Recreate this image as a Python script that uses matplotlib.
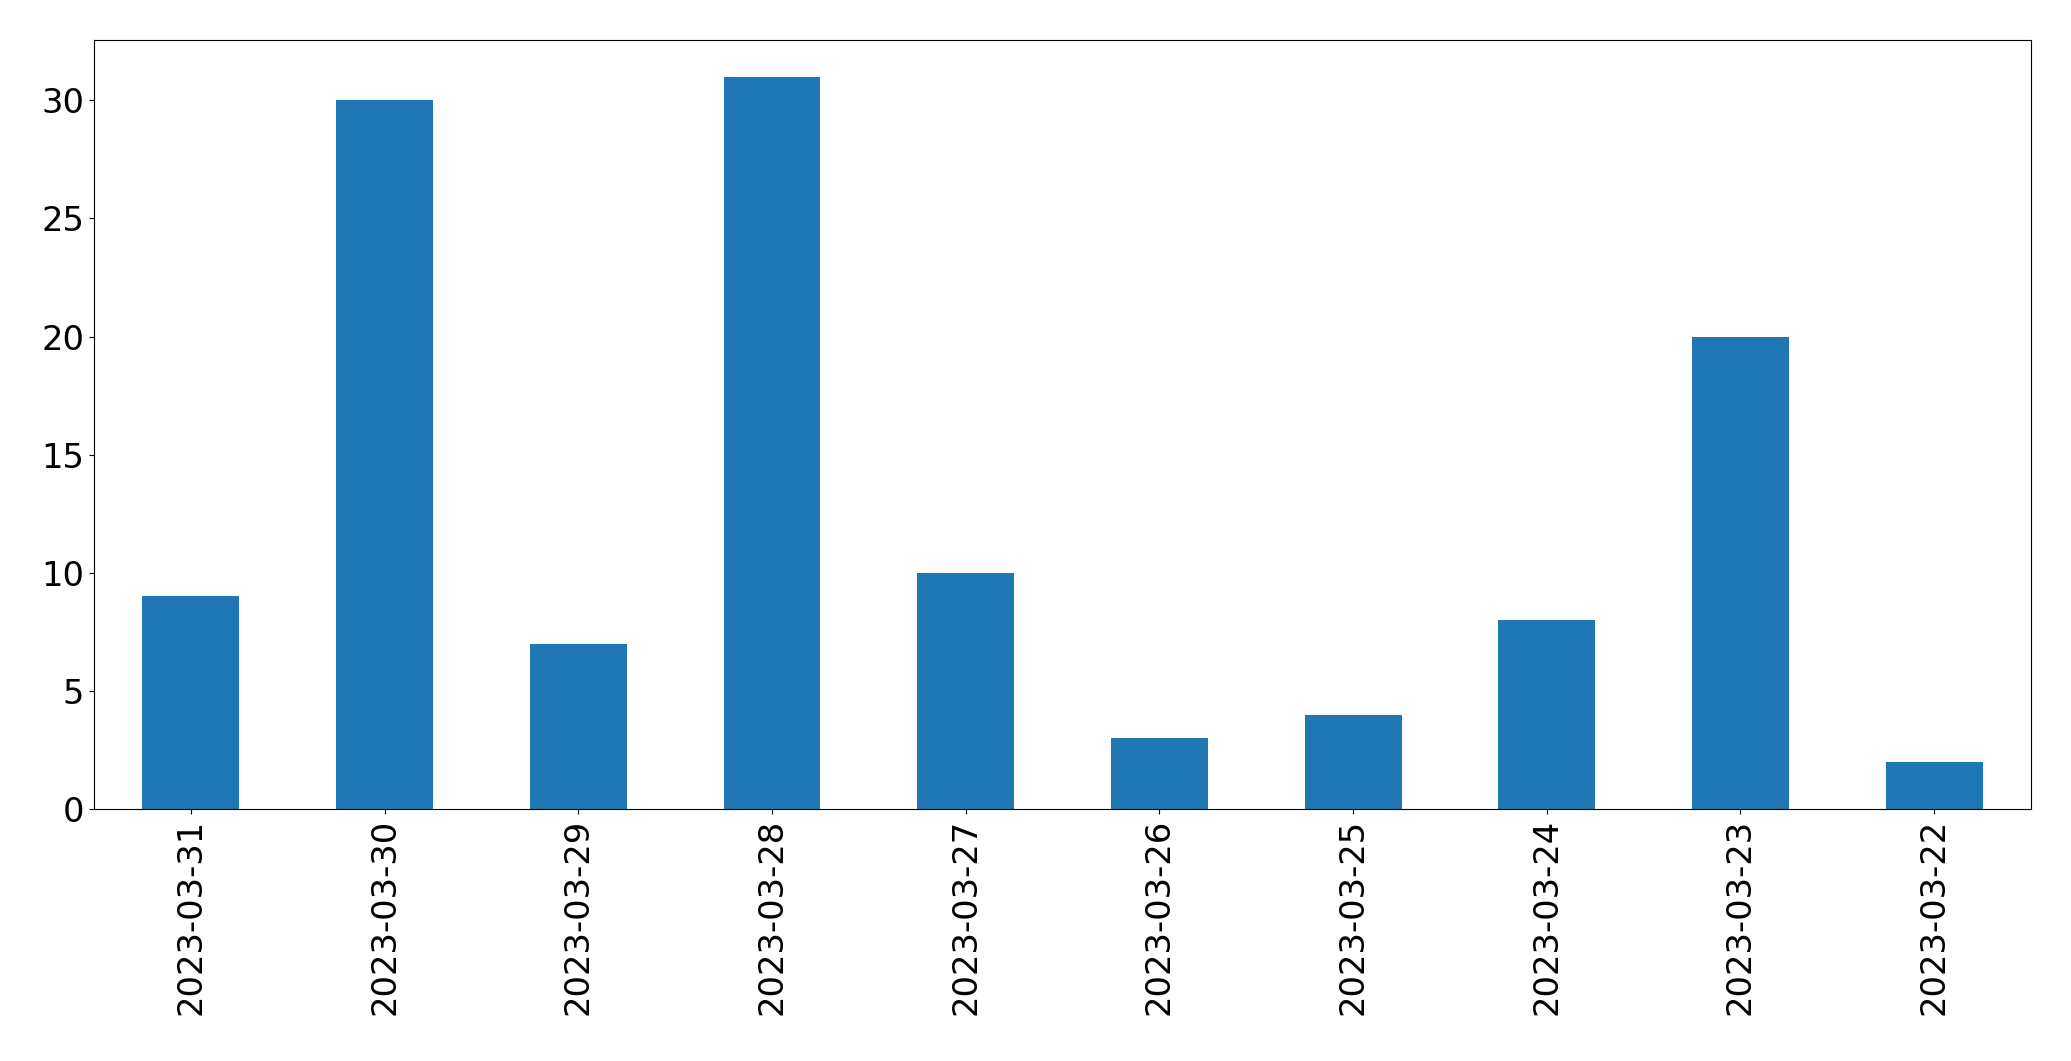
import matplotlib
matplotlib.use("Agg")
import matplotlib.pyplot as plt
import pandas as pd

# daily counts, newest first
dates = ['2023-03-31', '2023-03-30', '2023-03-29', '2023-03-28', '2023-03-27',
         '2023-03-26', '2023-03-25', '2023-03-24', '2023-03-23', '2023-03-22']
counts = [9, 30, 7, 31, 10, 3, 4, 8, 20, 2]

s = pd.Series(counts, index=dates)

fig, ax = plt.subplots(figsize=(20.71, 10.61), dpi=100)
s.plot(kind='bar', ax=ax, color='#1f77b4')
ax.tick_params(axis='both', labelsize=24.3)
ax.set_ylim(0, max(counts) * 1.05)
fig.subplots_adjust(left=0.0454, right=0.9807, top=0.9623, bottom=0.2375)
fig.savefig('out.png', dpi=100)
